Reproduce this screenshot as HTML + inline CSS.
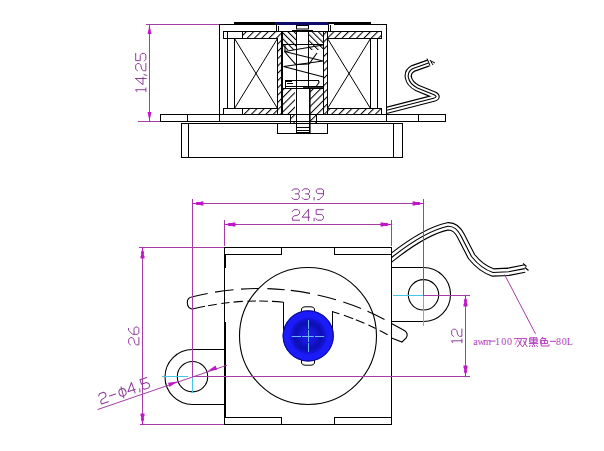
<!DOCTYPE html>
<html><head><meta charset="utf-8">
<style>
html,body{margin:0;padding:0;background:#fff;width:604px;height:451px;overflow:hidden}
svg{display:block}
text{font-family:"Liberation Sans",sans-serif}
</style></head>
<body>
<svg width="604" height="451" viewBox="0 0 604 451">
<defs>
<pattern id="h1" patternUnits="userSpaceOnUse" width="5.16" height="5.16" patternTransform="rotate(45)">
<line x1="0.5" y1="-1" x2="0.5" y2="7" stroke="#000" stroke-width="1.05"/>
</pattern>
<pattern id="h2" patternUnits="userSpaceOnUse" width="4.3" height="4.3" patternTransform="rotate(-45)">
<line x1="0.5" y1="-1" x2="0.5" y2="7" stroke="#000" stroke-width="1.05"/>
</pattern>
</defs>
<rect width="604" height="451" fill="#fff"/>

<rect x="242" y="31" width="40" height="7" fill="url(#h1)"/>
<rect x="324" y="31" width="58" height="7" fill="url(#h1)"/>
<rect x="242" y="108" width="40" height="6" fill="url(#h1)"/>
<rect x="324" y="108" width="58" height="6" fill="url(#h1)"/>
<rect x="277" y="38" width="5" height="70" fill="url(#h1)"/>
<rect x="324" y="38" width="4" height="70" fill="url(#h1)"/>
<rect x="282" y="31" width="14.5" height="19" fill="url(#h2)"/>
<rect x="309" y="31" width="15" height="19" fill="url(#h2)"/>
<rect x="282" y="88" width="13" height="26" fill="url(#h1)"/>
<rect x="310" y="88" width="14" height="26" fill="url(#h1)"/>
<rect x="290" y="114" width="5" height="9" fill="url(#h1)"/>
<rect x="310" y="114" width="6" height="9" fill="url(#h1)"/>
<rect x="234" y="22" width="42" height="2" fill="#000"/>
<rect x="270" y="23" width="6" height="2" fill="#000"/>
<rect x="275" y="22" width="54" height="3" fill="#0c0c68"/>
<rect x="328" y="22" width="43" height="2" fill="#000"/>
<rect x="219" y="24" width="52" height="1" fill="#000"/>
<rect x="334" y="24" width="53" height="1" fill="#000"/>
<rect x="219" y="24" width="1" height="98" fill="#000"/>
<rect x="386" y="24" width="1" height="98" fill="#000"/>
<rect x="276" y="24" width="1" height="7" fill="#000"/>
<rect x="278" y="26" width="1" height="5" fill="#000"/>
<rect x="328" y="25" width="1" height="6" fill="#000"/>
<rect x="330" y="25" width="1" height="6" fill="#000"/>
<rect x="223" y="31" width="159" height="1" fill="#000"/>
<rect x="223" y="38" width="54" height="1" fill="#000"/>
<rect x="328" y="38" width="54" height="1" fill="#000"/>
<rect x="223" y="31" width="1" height="8" fill="#000"/>
<rect x="381" y="31" width="1" height="8" fill="#000"/>
<rect x="227" y="31" width="1" height="77" fill="#000"/>
<rect x="242" y="31" width="1" height="7" fill="#000"/>
<rect x="377" y="38" width="1" height="70" fill="#000"/>
<rect x="223" y="108" width="54" height="1" fill="#000"/>
<rect x="328" y="108" width="54" height="1" fill="#000"/>
<rect x="223" y="108" width="1" height="7" fill="#000"/>
<rect x="381" y="108" width="1" height="7" fill="#000"/>
<rect x="242" y="108" width="1" height="6" fill="#000"/>
<rect x="160" y="114" width="286" height="1" fill="#000"/>
<rect x="160" y="121" width="286" height="1" fill="#000"/>
<rect x="160" y="114" width="1" height="8" fill="#000"/>
<rect x="445" y="114" width="1" height="8" fill="#000"/>
<rect x="187" y="114" width="1" height="7" fill="#000"/>
<rect x="418" y="114" width="1" height="7" fill="#000"/>
<rect x="234" y="38" width="1" height="70" fill="#000"/>
<rect x="370" y="38" width="1" height="70" fill="#000"/>
<g stroke="#000" stroke-width="1" fill="none">
<line x1="234.5" y1="38.5" x2="277.5" y2="108.5" stroke="#000" stroke-width="1" />
<line x1="277.5" y1="38.5" x2="234.5" y2="108.5" stroke="#000" stroke-width="1" />
<line x1="327.5" y1="38.5" x2="370.5" y2="108.5" stroke="#000" stroke-width="1" />
<line x1="370.5" y1="38.5" x2="327.5" y2="108.5" stroke="#000" stroke-width="1" />
</g>
<rect x="277" y="38" width="1" height="76" fill="#000"/>
<rect x="281" y="31" width="2" height="83" fill="#000"/>
<rect x="323" y="31" width="1" height="83" fill="#000"/>
<rect x="327" y="31" width="1" height="83" fill="#000"/>
<rect x="296" y="30" width="1" height="104" fill="#000"/>
<rect x="308" y="30" width="1" height="58" fill="#000"/>
<rect x="309" y="88" width="1.6" height="46" fill="#000"/>
<rect x="296.5" y="25.5" width="12" height="3.5" stroke="#000" stroke-width="1" fill="none" />
<rect x="292" y="30" width="21" height="1.5" fill="#000"/>
<rect x="282" y="44" width="42" height="1" fill="#000"/>
<g stroke="#000" stroke-width="1.15" fill="none">
<polyline points="323,45 284.5,51.5 323,61 283.5,66.5 323.5,77"/>
<polyline points="284.5,51.5 290,58 295.7,64.5 309,64 317,53"/>
<polyline points="285,45 285,52"/>
</g>
<rect x="285" y="80" width="34" height="1" fill="#000"/>
<rect x="285" y="80" width="1" height="8" fill="#000"/>
<rect x="286" y="81" width="6" height="1" fill="#000"/>
<rect x="287" y="83" width="6" height="1" fill="#000"/>
<rect x="285" y="86" width="18" height="1" fill="#000"/>
<rect x="303" y="86" width="21" height="1.8" fill="#000"/>
<path d="M318.5,80.5 L319,82.5 L316.5,86" stroke="#000" stroke-width="1.1" fill="none"/>
<rect x="282" y="88" width="42" height="1" fill="#000"/>
<rect x="290" y="114" width="1" height="9" fill="#000"/>
<rect x="316" y="114" width="1" height="9" fill="#000"/>
<rect x="181" y="123" width="222" height="1" fill="#000"/>
<rect x="181" y="157" width="222" height="1" fill="#000"/>
<rect x="181" y="123" width="1" height="35" fill="#000"/>
<rect x="402" y="123" width="1" height="35" fill="#000"/>
<rect x="188" y="123" width="1" height="34" fill="#000"/>
<rect x="393" y="123" width="1" height="34" fill="#000"/>
<rect x="277" y="123" width="1" height="11" fill="#000"/>
<rect x="327" y="123" width="1" height="11" fill="#000"/>
<rect x="277" y="133" width="51" height="1" fill="#000"/>
<rect x="296" y="132" width="13" height="1" fill="#000"/>
<rect x="296" y="127" width="13" height="1" fill="#000"/>
<rect x="296" y="130" width="13" height="1" fill="#000"/>
<clipPath id="cw2"><rect x="386.5" y="40" width="100" height="80"/></clipPath>
<g fill="none" stroke-linejoin="round" clip-path="url(#cw2)"><path d="M380,112.1 L386.8,110.3 L433.5,98.3 Q438.5,97 434,94.8 L417.4,88 Q409.5,84 408.3,77.2 Q407.5,71.5 413,68.5 L428.5,63" stroke="#000" stroke-width="7.2"/><path d="M380,112.1 L386.8,110.3 L433.5,98.3 Q438.5,97 434,94.8 L417.4,88 Q409.5,84 408.3,77.2 Q407.5,71.5 413,68.5 L428.5,63" stroke="#fff" stroke-width="5"/><path d="M380,112.1 L386.8,110.3 L433.5,98.3 Q438.5,97 434,94.8 L417.4,88 Q409.5,84 408.3,77.2 Q407.5,71.5 413,68.5 L428.5,63" stroke="#000" stroke-width="1.1"/></g>
<path d="M427,58.5 l3,7 M430,60 l3,5 M431,61 l4,2" stroke="#000" stroke-width="1" fill="none"/>
<rect x="386" y="24" width="1" height="98" fill="#000"/>
<rect x="146" y="24" width="73" height="1" fill="#a63ca6"/>
<rect x="138" y="121" width="22" height="1" fill="#a63ca6"/>
<rect x="149" y="24" width="1" height="98" fill="#a63ca6"/>
<path d="M149.5,25 l-2,9 h4 z" fill="#c018c8"/>
<path d="M149.5,121 l-2,-9 h4 z" fill="#c018c8"/>
<rect x="224" y="247" width="168" height="1" fill="#000"/>
<rect x="224" y="424" width="168" height="1" fill="#000"/>
<rect x="224" y="247" width="1" height="178" fill="#000"/>
<rect x="391" y="247" width="1" height="178" fill="#000"/>
<rect x="224" y="254" width="2" height="14" fill="#000"/>
<rect x="224" y="322" width="2" height="96" fill="#000"/>
<rect x="224" y="254" width="58" height="1" fill="#000"/>
<rect x="281" y="247" width="1" height="8" fill="#000"/>
<rect x="334" y="254" width="58" height="1" fill="#000"/>
<rect x="334" y="247" width="1" height="8" fill="#000"/>
<rect x="224" y="417" width="58" height="1" fill="#000"/>
<rect x="281" y="417" width="1" height="8" fill="#000"/>
<rect x="334" y="417" width="58" height="1" fill="#000"/>
<rect x="334" y="417" width="1" height="8" fill="#000"/>
<circle cx="308" cy="336" r="68.5" stroke="#000" stroke-width="1.1" fill="none"/>
<path d="M224.5,349.5 H192.5 A27.5,27.5 0 0 0 192.5,404.5 H224.5" stroke="#000" stroke-width="1.1" fill="none"/>
<circle cx="192.5" cy="376.7" r="15.2" stroke="#000" stroke-width="1.1" fill="none"/>
<path d="M391.5,267.5 H423.5 A27,27 0 0 1 423.5,321.5 H391.5" stroke="#000" stroke-width="1.1" fill="none"/>
<circle cx="423.5" cy="294.8" r="15.2" stroke="#000" stroke-width="1.1" fill="none"/>
<rect x="283" y="302" width="1" height="28" fill="#000"/>
<rect x="332" y="311" width="1" height="19" fill="#000"/>
<path d="M192.70,296.80 A269.6,269.6 0 0 1 207.70,293.45 M215.00,292.13 A269.6,269.6 0 0 1 233.50,289.72 M241.00,289.11 A269.6,269.6 0 0 1 258.80,288.50 M267.40,288.63 A269.6,269.6 0 0 1 284.70,289.72 M290.80,290.37 A269.6,269.6 0 0 1 310.00,293.35 M317.60,294.92 A269.6,269.6 0 0 1 336.00,299.70 M343.30,301.99 A269.6,269.6 0 0 1 361.00,308.50 M367.50,311.25 A269.6,269.6 0 0 1 384.50,319.44 M192.70,309.09 A265.9,265.9 0 0 1 205.00,306.29 M208.10,305.69 A265.9,265.9 0 0 1 216.80,304.18 M221.30,303.52 A265.9,265.9 0 0 1 229.50,302.51 M233.60,302.10 A265.9,265.9 0 0 1 242.80,301.42 M247.40,301.20 A265.9,265.9 0 0 1 256.00,301.01 M259.20,301.00 A265.9,265.9 0 0 1 267.90,301.19 M272.00,301.38 A265.9,265.9 0 0 1 283.40,302.24 M332.60,311.74 A265.9,265.9 0 0 1 339.30,313.80 M343.90,315.33 A265.9,265.9 0 0 1 353.20,318.70 M355.80,319.72 A265.9,265.9 0 0 1 364.40,323.30 M368.40,325.09 A265.9,265.9 0 0 1 375.70,328.57 M379.70,330.59 A265.9,265.9 0 0 1 387.60,334.83" fill="none" stroke="#000" stroke-width="1.1"/>
<path d="M192.8,296.8 Q187,297.6 187.3,302.8 Q187.6,308.6 192.8,309.3" fill="none" stroke="#000" stroke-width="1.1"/>
<path d="M391.5,323.5 L404.8,330.8 Q408.6,333.6 406.4,337.6 L402,342 L391.5,338" fill="none" stroke="#000" stroke-width="1.1"/>
<path d="M301.5,311 V309 Q302,306.8 305,306.8 H311 Q314,306.8 314.5,309 V311" fill="#fff" stroke="#000" stroke-width="1"/>
<path d="M301.5,360 V363 Q302,365.2 305,365.2 H311 Q314,365.2 314.5,363 V360" fill="#fff" stroke="#000" stroke-width="1"/>
<radialGradient id="bg" cx="308.3" cy="336" r="25.6" gradientUnits="userSpaceOnUse"><stop offset="0" stop-color="#1c1cee"/><stop offset="0.3" stop-color="#1616d6"/><stop offset="0.5" stop-color="#0e0eb4"/><stop offset="0.62" stop-color="#1212cc"/><stop offset="0.76" stop-color="#1c1cfa"/><stop offset="0.93" stop-color="#1c1cfa"/><stop offset="1" stop-color="#1010c0"/></radialGradient>
<circle cx="308.2" cy="335.9" r="25.6" fill="url(#bg)"/>
<circle cx="308.2" cy="335.9" r="25.1" fill="none" stroke="#0c0c9c" stroke-width="1"/>
<g fill="#6cb4ff"><rect x="291.7" y="336" width="9.3" height="1"/><rect x="302" y="336" width="11.8" height="1"/><rect x="315" y="336" width="9.2" height="1"/><rect x="308" y="320" width="1" height="9"/><rect x="308" y="330" width="1" height="12"/><rect x="308" y="343" width="1" height="8.8"/></g>
<clipPath id="cw"><rect x="391.5" y="200" width="200" height="100"/></clipPath>
<g fill="none" stroke-linejoin="round" clip-path="url(#cw)"><path d="M385,262.6 L391.4,257.7 C410,243 430,230 448,226.3 Q456,226 461,236 L471.5,256.5 Q481,268.5 493,272.5 L508.5,271.8 L524.5,268.6" stroke="#000" stroke-width="8.4"/><path d="M385,262.6 L391.4,257.7 C410,243 430,230 448,226.3 Q456,226 461,236 L471.5,256.5 Q481,268.5 493,272.5 L508.5,271.8 L524.5,268.6" stroke="#fff" stroke-width="6.2"/><path d="M385,262.6 L391.4,257.7 C410,243 430,230 448,226.3 Q456,226 461,236 L471.5,256.5 Q481,268.5 493,272.5 L508.5,271.8 L524.5,268.6" stroke="#000" stroke-width="1.1"/></g>
<path d="M523,263.5 l3.5,3 M525,267.5 l3.5,3" stroke="#000" stroke-width="1.2" fill="none"/>
<rect x="391" y="247" width="1" height="178" fill="#000"/>
<rect x="162" y="376" width="26" height="1" fill="#45c6e6"/>
<rect x="192" y="377" width="1" height="16" fill="#45c6e6"/>
<rect x="393" y="295" width="30" height="1" fill="#45c6e6"/>
<rect x="423" y="296" width="1" height="30" fill="#45c6e6"/>
<rect x="192" y="199" width="1" height="178" fill="#a63ca6"/>
<rect x="423" y="199" width="1" height="97" fill="#a63ca6"/>
<rect x="192" y="203" width="232" height="1" fill="#a63ca6"/>
<rect x="224" y="220" width="1" height="26" fill="#a63ca6"/>
<rect x="391" y="220" width="1" height="26" fill="#a63ca6"/>
<rect x="224" y="224" width="168" height="1" fill="#a63ca6"/>
<rect x="139" y="247" width="85" height="1" fill="#a63ca6"/>
<rect x="140" y="424" width="84" height="1" fill="#a63ca6"/>
<rect x="142" y="247" width="1" height="178" fill="#a63ca6"/>
<rect x="192" y="376" width="278" height="1" fill="#a63ca6"/>
<rect x="423" y="295" width="47" height="1" fill="#a63ca6"/>
<rect x="465" y="295" width="1" height="82" fill="#a63ca6"/>
<line x1="97.5" y1="409.6" x2="227" y2="365.2" stroke="#a63ca6" stroke-width="1"/>
<line x1="504.5" y1="274.5" x2="535.5" y2="333.8" stroke="#a63ca6" stroke-width="1"/>
<path d="M192.5,203.0 L195.5,203.0 L196.5,202.1 L200.5,202.1 L201.0,201.5 L203.5,201.5 L203.5,205.5 L201.0,205.5 L200.5,204.9 L196.5,204.9 L195.5,204.0 L192.5,204.0 Z" fill="#c018c8"/>
<path d="M423.5,203.0 L420.5,203.0 L419.5,202.1 L415.5,202.1 L415.0,201.5 L412.5,201.5 L412.5,205.5 L415.0,205.5 L415.5,204.9 L419.5,204.9 L420.5,204.0 L423.5,204.0 Z" fill="#c018c8"/>
<path d="M224.5,224.0 L227.5,224.0 L228.5,223.1 L232.5,223.1 L233.0,222.5 L235.5,222.5 L235.5,226.5 L233.0,226.5 L232.5,225.9 L228.5,225.9 L227.5,225.0 L224.5,225.0 Z" fill="#c018c8"/>
<path d="M391.5,224.0 L388.5,224.0 L387.5,223.1 L383.5,223.1 L383.0,222.5 L380.5,222.5 L380.5,226.5 L383.0,226.5 L383.5,225.9 L387.5,225.9 L388.5,225.0 L391.5,225.0 Z" fill="#c018c8"/>
<path d="M142.0,247.5 L142.0,250.5 L141.1,251.5 L141.1,255.5 L140.5,256.0 L140.5,258.5 L144.5,258.5 L144.5,256.0 L143.9,255.5 L143.9,251.5 L143.0,250.5 L143.0,247.5 Z" fill="#c018c8"/>
<path d="M142.0,424.5 L142.0,421.5 L141.1,420.5 L141.1,416.5 L140.5,416.0 L140.5,413.5 L144.5,413.5 L144.5,416.0 L143.9,416.5 L143.9,420.5 L143.0,421.5 L143.0,424.5 Z" fill="#c018c8"/>
<path d="M465.0,295.5 L465.0,298.5 L464.1,299.5 L464.1,303.5 L463.5,304.0 L463.5,306.5 L467.5,306.5 L467.5,304.0 L466.9,303.5 L466.9,299.5 L466.0,298.5 L466.0,295.5 Z" fill="#c018c8"/>
<path d="M465.0,376.5 L465.0,373.5 L464.1,372.5 L464.1,368.5 L463.5,368.0 L463.5,365.5 L467.5,365.5 L467.5,368.0 L466.9,368.5 L466.9,372.5 L466.0,373.5 L466.0,376.5 Z" fill="#c018c8"/>
<path d="M177.5,381.4 l-9.5,1.4 l1.5,4.2 z" fill="#c018c8"/>
<path d="M207.6,371.1 l9.5,-1.4 l-1.5,-4.2 z" fill="#c018c8"/>
<g transform="translate(291.7,188.4)"><path d="M 0.3 2.3 L 1.9 0.5 L 6 0.5 L 7.6 2 L 7.6 4 L 6 5.5 L 3.6 5.5 M 6 5.5 L 7.6 7 L 7.6 9.5 L 6 11 L 2 11 L 0.3 9.3 M 10.5 2.3 L 12.1 0.5 L 16.2 0.5 L 17.8 2 L 17.8 4 L 16.2 5.5 L 13.8 5.5 M 16.2 5.5 L 17.8 7 L 17.8 9.5 L 16.2 11 L 12.2 11 L 10.5 9.3 M 22.4 9 L 22.4 11.6 M 31.8 5.3 L 26.2 5.3 L 24.6 3.9 L 24.6 1.7 L 26.1 0.5 L 30.2 0.5 L 31.8 1.7 L 31.8 7 L 27.5 11.2 L 26 11.2" fill="none" stroke="#8e3c9a" stroke-width="1.0" stroke-linejoin="round" stroke-linecap="round"/></g>
<g transform="translate(291.7,209.2)"><path d="M 0.6 2.4 L 2.2 0.5 L 6.3 0.5 L 7.8 2 L 7.8 4.3 L 6.3 5.8 L 2.1 6.8 L 0.7 8.3 L 0.7 11 L 8 11 M 16.7 0.3 L 10.4 8 L 18 8 M 16.7 0.3 L 16.7 11.4 M 22.4 9 L 22.4 11.6 M 31.7 0.5 L 24.5 0.5 L 24.5 5.2 L 29.7 5.2 L 31.7 6.9 L 31.7 9.5 L 30.1 11 L 25.9 11 L 24.1 9.4" fill="none" stroke="#8e3c9a" stroke-width="1.0" stroke-linejoin="round" stroke-linecap="round"/></g>
<g transform="translate(135.2,92.2) rotate(-90) scale(1,0.97)"><path d="M 0.6 1.8 L 2.5 0.3 L 2.5 11 M 0.5 11 L 4.3 11 M 13.7 0.3 L 7.4 8 L 15 8 M 13.7 0.3 L 13.7 11.4 M 17.7 9 L 16.8 12 M 21.4 2.4 L 23 0.5 L 27.1 0.5 L 28.6 2 L 28.6 4.3 L 27.1 5.8 L 22.9 6.8 L 21.5 8.3 L 21.5 11 L 28.8 11 M 38.8 0.5 L 31.6 0.5 L 31.6 5.2 L 36.8 5.2 L 38.8 6.9 L 38.8 9.5 L 37.2 11 L 33 11 L 31.2 9.4" fill="none" stroke="#8e3c9a" stroke-width="1.0" stroke-linejoin="round" stroke-linecap="round"/></g>
<g transform="translate(128.2,345.2) rotate(-90) scale(1,0.97)"><path d="M 0.3 2.4 L 1.9 0.5 L 6 0.5 L 7.5 2 L 7.5 4.3 L 6 5.8 L 1.8 6.8 L 0.4 8.3 L 0.4 11 L 7.7 11 M 10.9 6 L 16.5 6 L 18.2 7.4 L 18.2 9.6 L 16.7 11 L 12.5 11 L 10.9 9.6 L 10.9 4.5 L 15.1 0.3 L 16.7 0.3" fill="none" stroke="#8e3c9a" stroke-width="1.0" stroke-linejoin="round" stroke-linecap="round"/></g>
<g transform="translate(451.2,343) rotate(-90) scale(1,0.97)"><path d="M 0.3 1.8 L 2.2 0.3 L 2.2 11 M 0.2 11 L 4 11 M 6.6 2.4 L 8.2 0.5 L 12.3 0.5 L 13.8 2 L 13.8 4.3 L 12.3 5.8 L 8.1 6.8 L 6.7 8.3 L 6.7 11 L 14 11" fill="none" stroke="#8e3c9a" stroke-width="1.0" stroke-linejoin="round" stroke-linecap="round"/></g>
<g transform="translate(97.6,393.8) rotate(-19)"><path d="M 0.3 2.4 L 1.9 0.5 L 6 0.5 L 7.5 2 L 7.5 4.3 L 6 5.8 L 1.8 6.8 L 0.4 8.3 L 0.4 11 L 7.7 11 M 10.5 6 L 17 6 M 24 3 Q 20.5 3 20.5 7 Q 20.5 10.5 24 10.5 Q 27.5 10.5 27.5 7 Q 27.5 3 24 3 Z M 24.5 1 L 23.5 12.5 M 35.7 0.3 L 29.4 8 L 37 8 M 35.7 0.3 L 35.7 11.4 M 41.5 9 L 40.6 12 M 51.8 0.5 L 44.6 0.5 L 44.6 5.2 L 49.8 5.2 L 51.8 6.9 L 51.8 9.5 L 50.2 11 L 46 11 L 44.2 9.4" fill="none" stroke="#8e3c9a" stroke-width="1.0" stroke-linejoin="round" stroke-linecap="round"/></g>
<text x="475.6 481 487.1 497.6 503.7 509.6 516" y="345.4" font-size="10" fill="#b43cbc" text-anchor="middle" style="font-family:'Liberation Serif',serif">awm1007</text>
<text x="558.5 564.2 569.7" y="345.4" font-size="10" fill="#b43cbc" text-anchor="middle" style="font-family:'Liberation Serif',serif">80L</text>
<rect x="490" y="340.6" width="5.5" height="1" fill="#b43cbc"/><rect x="550" y="340.8" width="6" height="1" fill="#b43cbc"/>
<g fill="none" stroke="#b43cbc" stroke-width="1" stroke-linecap="square">
<path d="M517.8,338.6 H521.6 Q521,343 517.6,346.6 M518.6,340.8 Q520,344 522,346.4 M522.6,338.6 H526.6 Q526,343 522.8,346.6 M523.6,341 Q525,344.5 527,346.6"/>
<path d="M530.2,337.8 H537 V342.2 H530.2 Z M533.6,337.8 V344.6 M530.2,340 H537 M529.4,343.6 H537.8 M530,345.6 l-0.6,1 M532.2,345.6 l0.2,1 M534.6,345.6 l0.2,1 M536.8,345.6 l0.6,1"/>
<path d="M531,338.5 l1.2,1.2 M536,338.5 l-1.2,1.2" stroke-width="0.8"/>
<path d="M542.6,337.4 L540.4,340 M542,338.6 H546 L544.4,340.4 M541.2,340.6 H547.6 V343.6 H541.2 Z M544.4,340.6 V343.6 M541.2,340.6 V346 H549 V344.8"/>
</g>
</svg>
</body></html>
